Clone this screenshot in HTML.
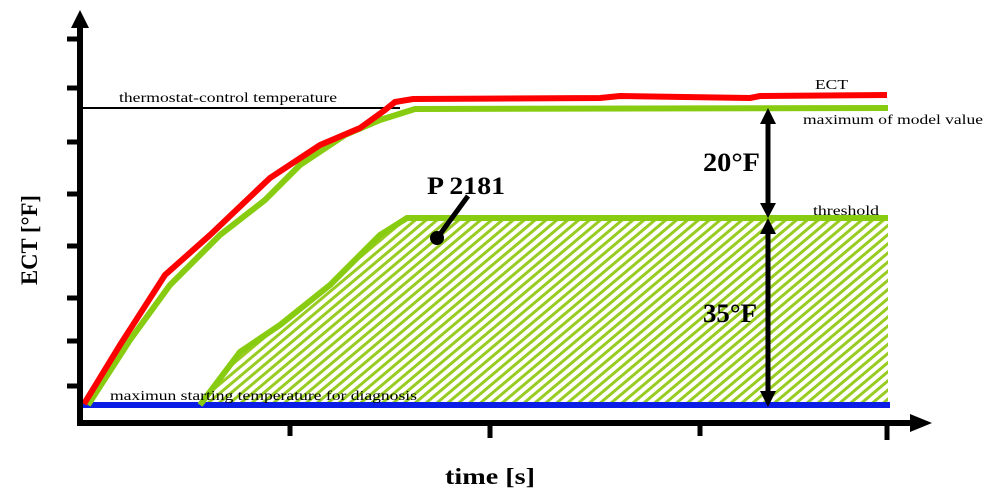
<!DOCTYPE html>
<html><head><meta charset="utf-8"><style>
html,body{margin:0;padding:0;background:#fff}
svg{display:block}
</style></head><body>
<svg width="998" height="498" viewBox="0 0 998 498" xmlns="http://www.w3.org/2000/svg" font-family="Liberation Serif, serif">
<defs>
<pattern id="h" width="7" height="7" patternUnits="userSpaceOnUse" patternTransform="rotate(-40)">
<rect width="7" height="7" fill="#fff"/>
<rect width="7" height="3" fill="#9c2"/>
</pattern>
</defs>
<path d="M200,405 L240,352 L280,325 L330,285 L380,235 L407,218 L888,218 L888,405 Z" fill="url(#h)"/>
<line x1="82" y1="108" x2="400" y2="108" stroke="#000" stroke-width="2"/>
<line x1="82" y1="405" x2="890" y2="405" stroke="#0a1ee6" stroke-width="6"/>
<polyline points="200,405 240,352 280,325 330,285 380,235 407,218 888,218" fill="none" stroke="#8c1" stroke-width="6"/>
<polyline points="88,405 130,340 170,285 220,235 265,200 300,165 345,135 380,120 415,109 888,108" fill="none" stroke="#8c1" stroke-width="6"/>
<polyline points="84,404 120,345 165,275 210,235 270,178 320,145 360,128 385,110 395,102 413,99 600,98 620,96 750,98 760,96 887,95" fill="none" stroke="#f00" stroke-width="6"/>
<line x1="80" y1="22" x2="80" y2="425" stroke="#000" stroke-width="6"/>
<polygon points="80,10 71,28 89,28" fill="#000"/>
<line x1="77" y1="423" x2="910" y2="423" stroke="#000" stroke-width="6"/>
<polygon points="932,423 910,414 910,432" fill="#000"/>
<g stroke="#000" stroke-width="5">
<line x1="67" y1="39" x2="80" y2="39"/><line x1="67" y1="88" x2="80" y2="88"/>
<line x1="67" y1="142" x2="80" y2="142"/><line x1="67" y1="194" x2="80" y2="194"/>
<line x1="67" y1="246" x2="80" y2="246"/><line x1="67" y1="298" x2="80" y2="298"/>
<line x1="67" y1="341" x2="80" y2="341"/><line x1="67" y1="386" x2="80" y2="386"/>
<line x1="290" y1="423" x2="290" y2="436"/><line x1="490" y1="423" x2="490" y2="438"/>
<line x1="700" y1="423" x2="700" y2="436"/><line x1="887" y1="423" x2="887" y2="440"/>
</g>
<g stroke="#000" stroke-width="5">
<line x1="768" y1="120" x2="768" y2="205"/>
<line x1="768" y1="232" x2="768" y2="395"/>
</g>
<g fill="#000">
<polygon points="768,108 760,124 776,124"/>
<polygon points="768,218 760,203 776,203"/>
<polygon points="768,218 760,234 776,234"/>
<polygon points="768,407 760,391 776,391"/>
</g>
<line x1="468" y1="196" x2="438" y2="237" stroke="#000" stroke-width="5"/>
<circle cx="437" cy="238" r="7" fill="#000"/>
<text x="427" y="194" font-size="25" font-weight="bold" textLength="78" lengthAdjust="spacingAndGlyphs">P 2181</text>
<text x="703" y="171" font-size="26" font-weight="bold" textLength="57" lengthAdjust="spacingAndGlyphs">20°F</text>
<text x="703" y="322" font-size="26" font-weight="bold" textLength="54" lengthAdjust="spacingAndGlyphs">35°F</text>
<text x="815" y="89" font-size="14" textLength="33" lengthAdjust="spacingAndGlyphs">ECT</text>
<text x="803" y="124" font-size="14" textLength="180" lengthAdjust="spacingAndGlyphs">maximum of model value</text>
<text x="813" y="215" font-size="14" textLength="66" lengthAdjust="spacingAndGlyphs">threshold</text>
<text x="119" y="102" font-size="14" textLength="218" lengthAdjust="spacingAndGlyphs">thermostat-control temperature</text>
<text x="110" y="400" font-size="14" textLength="307" lengthAdjust="spacingAndGlyphs">maximun starting temperature for diagnosis</text>
<text transform="translate(37,240) rotate(-90)" text-anchor="middle" font-size="23" font-weight="bold" textLength="90" lengthAdjust="spacingAndGlyphs">ECT [°F]</text>
<text x="490" y="484" text-anchor="middle" font-size="23" font-weight="bold" textLength="90" lengthAdjust="spacingAndGlyphs">time [s]</text>
</svg>
</body></html>
